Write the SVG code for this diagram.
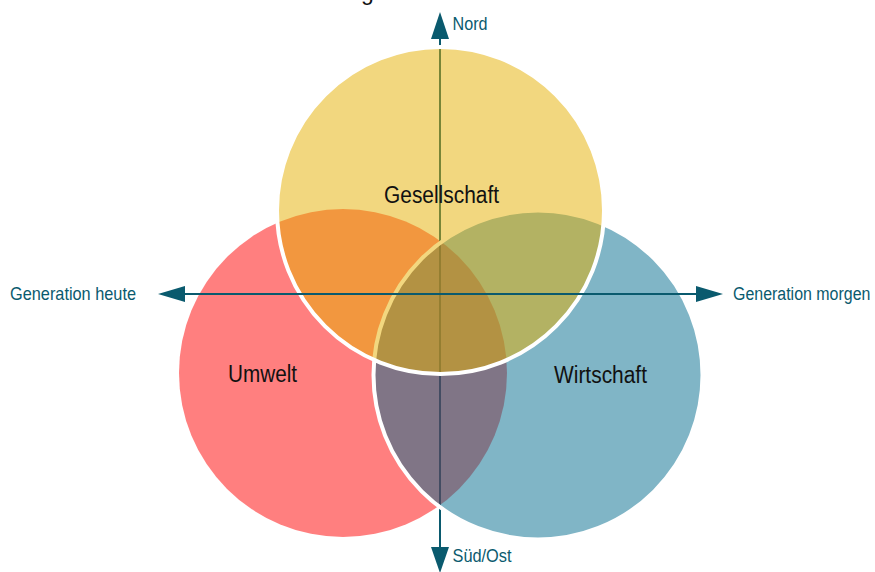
<svg xmlns="http://www.w3.org/2000/svg" width="875" height="572" viewBox="0 0 875 572">
  <style>
    .axis { stroke: #0A5A6E; stroke-width: 2; fill: none; }
    .head { fill: #0A5A6E; }
    .axlbl { font-family: "Liberation Sans", Arial, sans-serif; font-size: 19px; fill: #0A5A6E; }
    .lbl { font-family: "Liberation Sans", Arial, sans-serif; font-size: 23.5px; fill: #111111; }
    .ring { stroke: #ffffff; stroke-width: 4; }
  </style>
  <rect width="875" height="572" fill="#ffffff"/>
  <text x="361" y="-0.5" font-family="Liberation Sans, Arial, sans-serif" font-size="23" fill="#111111">g</text>

  <g id="connector-vertical" class="connectors">
    <line class="axis" x1="440" y1="38" x2="440" y2="548"/>
    <polygon class="head" points="440,12 449,39 431,39"/>
    <polygon class="head" points="440,573 449,547 431,547"/>
    <text class="axlbl" transform="translate(452.5,30) scale(0.85,1)">Nord</text>
    <text class="axlbl" transform="translate(452.5,562) scale(0.86,1)">Süd/Ost</text>
  </g>

  <g id="umwelt">
    <circle cx="343" cy="373" r="164" fill="#FF0000" fill-opacity="0.5"/>
  </g>
  <g id="wirtschaft">
    <circle class="ring" cx="538" cy="375" r="164.5" fill="#016B8D" fill-opacity="0.5"/>
  </g>
  <g id="gesellschaft">
    <circle class="ring" cx="440.5" cy="210.5" r="163.5" fill="#E5AF00" fill-opacity="0.5"/>
  </g>

  <g id="labels">
    <text class="lbl" x="384" y="203" textLength="115" lengthAdjust="spacingAndGlyphs">Gesellschaft</text>
    <text class="lbl" x="228" y="382" textLength="69" lengthAdjust="spacingAndGlyphs">Umwelt</text>
    <text class="lbl" x="554" y="383" textLength="93" lengthAdjust="spacingAndGlyphs">Wirtschaft</text>
  </g>

  <g id="connector-horizontal" class="connectors">
    <line class="axis" x1="184" y1="294" x2="697" y2="294"/>
    <polygon class="head" points="158,294 185,286 185,302"/>
    <polygon class="head" points="723,294 696,286 696,302"/>
    <text class="axlbl" transform="translate(10,300) scale(0.858,1)">Generation heute</text>
    <text class="axlbl" transform="translate(733,300) scale(0.84,1)">Generation morgen</text>
  </g>
</svg>
